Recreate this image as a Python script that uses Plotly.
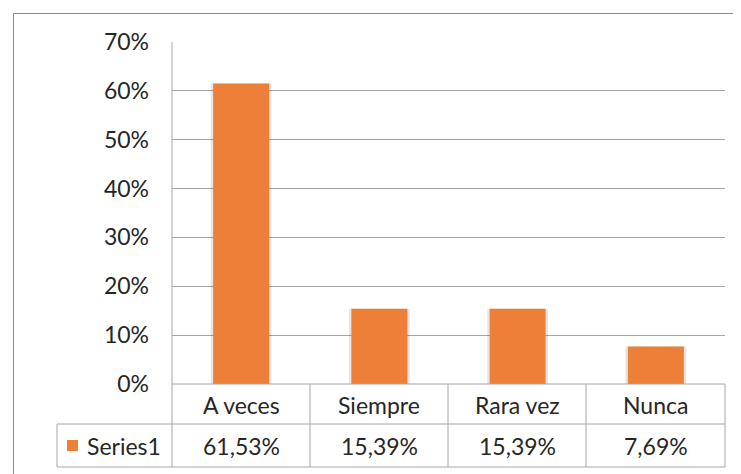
import plotly.graph_objects as go

categories = ["A veces", "Siempre", "Rara vez", "Nunca"]
values = [0.6153, 0.1539, 0.1539, 0.0769]
value_labels = ["61,53%", "15,39%", "15,39%", "7,69%"]
series_name = "Series1"
tick_vals = [0, 0.1, 0.2, 0.3, 0.4, 0.5, 0.6, 0.7]
tick_text = ["0%", "10%", "20%", "30%", "40%", "50%", "60%", "70%"]

W, H = 741, 474
OFF = 8  # the page body adds an 8px margin, so positions below are screen pixels
bar_color = "#EE7F38"
line_color = "#A6A6A6"
text_color = "#262626"
font_family = "Lato, Carlito, 'Open Sans', sans-serif"


def px_x(x):
    return (x - OFF) / W


def px_y(y):
    return 1 - (y - OFF) / H


fig = go.Figure()

# soft shadow behind the bars
fig.add_trace(go.Bar(x=categories, y=values, width=0.44,
                     marker=dict(color="rgba(0,0,0,0.10)", line_width=0),
                     hoverinfo="skip", showlegend=False))
fig.add_trace(go.Bar(x=categories, y=values, width=0.405, name=series_name,
                     marker=dict(color=bar_color, line_width=0), showlegend=False))

fig.update_layout(
    width=W, height=H, margin=dict(l=0, r=0, t=0, b=0, autoexpand=False),
    paper_bgcolor="white", plot_bgcolor="white", barmode="overlay",
    font=dict(family=font_family, size=23, color=text_color),
    xaxis=dict(domain=[px_x(172), px_x(725)], showticklabels=False, showgrid=False,
               showline=False, zeroline=False, range=[-0.5, 3.5], automargin=False),
    yaxis=dict(domain=[px_y(384), px_y(42)], range=[0, 0.7], tickvals=tick_vals,
               ticktext=tick_text, showgrid=True, gridcolor=line_color, gridwidth=1,
               zeroline=False, showline=False, ticks="", ticklabelstandoff=22,
               automargin=False),
)

shapes = []


def hline(x0, x1, y, color=line_color):
    shapes.append(dict(type="line", xref="paper", yref="paper", x0=px_x(x0), x1=px_x(x1),
                       y0=px_y(y), y1=px_y(y), line=dict(color=color, width=1)))


def vline(x, y0, y1, color=line_color):
    shapes.append(dict(type="line", xref="paper", yref="paper", x0=px_x(x), x1=px_x(x),
                       y0=px_y(y0), y1=px_y(y1), line=dict(color=color, width=1)))


# outer chart border
hline(13, 760, 13.5, "#8C8C8C")
vline(13.5, 13, 490, "#8C8C8C")

# plot area left edge and data table grid
vline(172, 42, 467)
hline(172, 725, 384)
hline(57, 725, 424)
hline(57, 725, 467)
vline(57, 424, 467)
for xv in [310, 448, 586, 725]:
    vline(xv, 384, 467)

# legend key
shapes.append(dict(type="rect", xref="paper", yref="paper", x0=px_x(67), x1=px_x(78),
                   y0=px_y(451), y1=px_y(440), fillcolor=bar_color, line_width=0))
fig.update_layout(shapes=shapes)

for cat, lab in zip(categories, value_labels):
    fig.add_annotation(x=cat, xref="x", y=px_y(405), yref="paper", text=cat,
                       showarrow=False, yanchor="middle")
    fig.add_annotation(x=cat, xref="x", y=px_y(446), yref="paper", text=lab,
                       showarrow=False, yanchor="middle")

fig.add_annotation(x=px_x(85), xref="paper", y=px_y(446), yref="paper", text=series_name,
                   showarrow=False, xanchor="left", yanchor="middle")

fig.write_html("out.html")
